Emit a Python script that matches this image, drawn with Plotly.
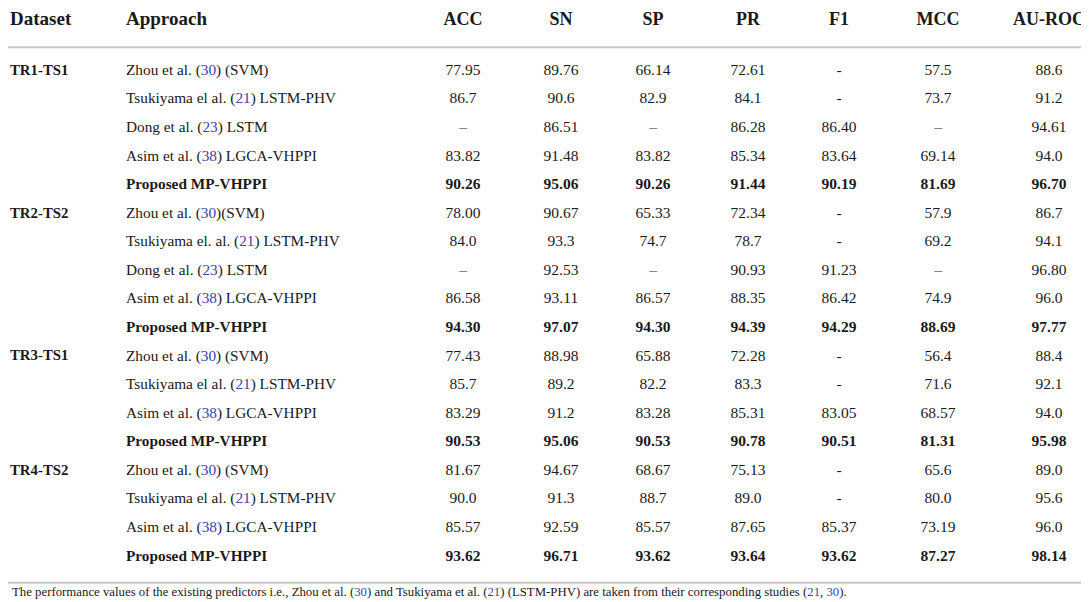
import re

import plotly.graph_objects as go

# table content
datasets = ["TR1-TS1", "TR2-TS2", "TR3-TS1", "TR4-TS2"]
group_sizes = [5, 5, 4, 4]

approaches = [
    "Zhou et al. (30) (SVM)",
    "Tsukiyama el al. (21) LSTM-PHV",
    "Dong et al. (23) LSTM",
    "Asim et al. (38) LGCA-VHPPI",
    "Proposed MP-VHPPI",
    "Zhou et al. (30)(SVM)",
    "Tsukiyama el. al. (21) LSTM-PHV",
    "Dong et al. (23) LSTM",
    "Asim et al. (38) LGCA-VHPPI",
    "Proposed MP-VHPPI",
    "Zhou et al. (30) (SVM)",
    "Tsukiyama el al. (21) LSTM-PHV",
    "Asim et al. (38) LGCA-VHPPI",
    "Proposed MP-VHPPI",
    "Zhou et al. (30) (SVM)",
    "Tsukiyama el al. (21) LSTM-PHV",
    "Asim et al. (38) LGCA-VHPPI",
    "Proposed MP-VHPPI",
]

metric_names = ["ACC", "SN", "SP", "PR", "F1", "MCC", "AU-ROC"]

acc = ["77.95", "86.7", "–", "83.82", "90.26", "78.00", "84.0", "–", "86.58", "94.30",
       "77.43", "85.7", "83.29", "90.53", "81.67", "90.0", "85.57", "93.62"]
sn = ["89.76", "90.6", "86.51", "91.48", "95.06", "90.67", "93.3", "92.53", "93.11", "97.07",
      "88.98", "89.2", "91.2", "95.06", "94.67", "91.3", "92.59", "96.71"]
sp = ["66.14", "82.9", "–", "83.82", "90.26", "65.33", "74.7", "–", "86.57", "94.30",
      "65.88", "82.2", "83.28", "90.53", "68.67", "88.7", "85.57", "93.62"]
pr = ["72.61", "84.1", "86.28", "85.34", "91.44", "72.34", "78.7", "90.93", "88.35", "94.39",
      "72.28", "83.3", "85.31", "90.78", "75.13", "89.0", "87.65", "93.64"]
f1 = ["-", "-", "86.40", "83.64", "90.19", "-", "-", "91.23", "86.42", "94.29",
      "-", "-", "83.05", "90.51", "-", "-", "85.37", "93.62"]
mcc = ["57.5", "73.7", "–", "69.14", "81.69", "57.9", "69.2", "–", "74.9", "88.69",
       "56.4", "71.6", "68.57", "81.31", "65.6", "80.0", "73.19", "87.27"]
auroc = ["88.6", "91.2", "94.61", "94.0", "96.70", "86.7", "94.1", "96.80", "96.0", "97.77",
         "88.4", "92.1", "94.0", "95.98", "89.0", "95.6", "96.0", "98.14"]

footnote = ("The performance values of the existing predictors i.e., Zhou et al. (30) and "
            "Tsukiyama et al. (21) (LSTM-PHV) are taken from their corresponding studies (21, 30).")

REF = "#4040a8"
INK = "#1a1a1a"
RULE = "#c8c8c8"
FONT = "Liberation Serif"


def color_refs(s):
    s = re.sub(r"\((\d+)\)", r"(<span style='color:%s'>\1</span>)" % REF, s)
    s = s.replace("(21, 30)", "(<span style='color:%s'>21</span>, <span style='color:%s'>30</span>)" % (REF, REF))
    return s


rows = list(range(len(approaches)))
bold = [a.startswith("Proposed") for a in approaches]

# first row of each group gets the dataset label
dataset_col = []
for name, n in zip(datasets, group_sizes):
    dataset_col += ["<b>" + name + "</b>"] + [""] * (n - 1)

# x axis runs from -10 to 1079 (one unit per pixel)
col_x = [445, 543, 635, 730, 821, 920, 1031]
x_dataset = -8
x_approach = 108
y_header = -1.78

fig = go.Figure()

fig.add_trace(go.Scatter(
    x=[x_dataset] * len(rows), y=rows, text=dataset_col, mode="text",
    textposition="middle right", textfont=dict(family=FONT, size=14.8, color=INK),
    hoverinfo="skip", cliponaxis=False,
))
fig.add_trace(go.Scatter(
    x=[x_approach] * len(rows), y=rows,
    text=["<b>%s</b>" % a if b else color_refs(a) for a, b in zip(approaches, bold)],
    mode="text", textposition="middle right",
    textfont=dict(family=FONT, size=15.3, color=INK),
    hoverinfo="skip", cliponaxis=False,
))

for x, vals in zip(col_x, [acc, sn, sp, pr, f1, mcc, auroc]):
    fig.add_trace(go.Scatter(
        x=[x] * len(rows), y=rows,
        text=["<b>%s</b>" % v if b else v for v, b in zip(vals, bold)],
        mode="text", textposition="middle center",
        textfont=dict(family=FONT, size=15.5, color=INK),
        hoverinfo="skip", cliponaxis=False,
    ))

# header row
fig.add_trace(go.Scatter(
    x=[x_dataset, x_approach], y=[y_header] * 2,
    text=["<b>Dataset</b>", "<b>Approach</b>"], mode="text", textposition="middle right",
    textfont=dict(family=FONT, size=19, color=INK), hoverinfo="skip", cliponaxis=False,
))
fig.add_trace(go.Scatter(
    x=col_x, y=[y_header] * len(col_x),
    text=["<b>%s</b>" % m for m in metric_names], mode="text", textposition="middle center",
    textfont=dict(family=FONT, size=18, color=INK), hoverinfo="skip", cliponaxis=False,
))

# rules
for yy in [-0.83, len(rows) - 0.09]:
    fig.add_shape(type="line", x0=-10, x1=1079, y0=yy, y1=yy, xref="x", yref="y",
                  line=dict(color=RULE, width=2))

fig.add_annotation(
    x=-8, y=len(rows) + 0.25, xref="x", yref="y", text=color_refs(footnote),
    showarrow=False, xanchor="left", yanchor="middle",
    font=dict(family=FONT, size=12.8, color=INK),
)

fig.update_layout(
    width=1089,
    height=602,
    margin=dict(l=0, r=0, t=0, b=0),
    showlegend=False,
    plot_bgcolor="white",
    paper_bgcolor="white",
    xaxis=dict(range=[-10, 1079], visible=False, fixedrange=True),
    yaxis=dict(range=[18.866, -2.205], visible=False, fixedrange=True),
)
fig.write_html("out.html")
